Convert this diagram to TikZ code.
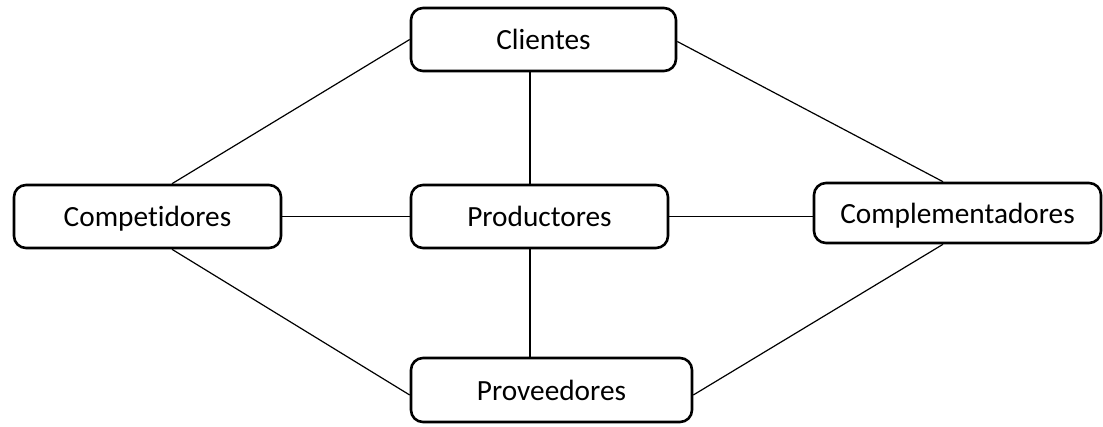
\documentclass[tikz,border=0pt]{standalone}
\usepackage{fontspec}
\setmainfont[Ligatures=NoCommon]{Carlito}
\usepackage{tikz}

\begin{document}
\begin{tikzpicture}[x=1pt,y=-1pt,
	caja/.style={draw,line width=2.6pt,rounded corners=12pt,inner sep=0pt,
		font=\fontsize{29.3}{35}\selectfont,text height=21pt,text depth=1pt},
	enlace/.style={line width=1.2pt}]
	\useasboundingbox (0,0) rectangle (1103,426);
	\node [caja,minimum width=265pt,minimum height=63pt] (cli) at (543.5,39.5) {Clientes};
	\node [caja,minimum width=267pt,minimum height=63pt] (comp) at (147.5,216.5) {Competidores};
	\node [caja,minimum width=257pt,minimum height=63pt] (prod) at (539.5,216.5) {Productores};
	\node [caja,minimum width=287pt,minimum height=60pt] (compl) at (957.5,213) {Complementadores};
	\node [caja,minimum width=281pt,minimum height=64pt] (prov) at (551.5,390) {Proveedores};
	% lineas
	\draw [enlace] (cli.west) -- ([xshift=24.5pt]comp.north);
	\draw [enlace] ([yshift=-2pt]cli.east) -- ([xshift=-14.5pt]compl.north);
	\draw [enlace] ([xshift=-13.5pt]cli.south) -- ([xshift=-9.5pt]prod.north);
	\draw [enlace] (comp.east) -- (prod.west);
	\draw [enlace] (prod.east) -- (prod.east -| compl.west);
	\draw [enlace] ([xshift=-9.5pt]prod.south) -- ([xshift=-21.5pt]prov.north);
	\draw [enlace] ([xshift=24.5pt]comp.south) -- ([yshift=-5pt]prov.west);
	\draw [enlace] ([xshift=-14.5pt]compl.south) -- ([yshift=-5pt]prov.east);
\end{tikzpicture}
\end{document}
